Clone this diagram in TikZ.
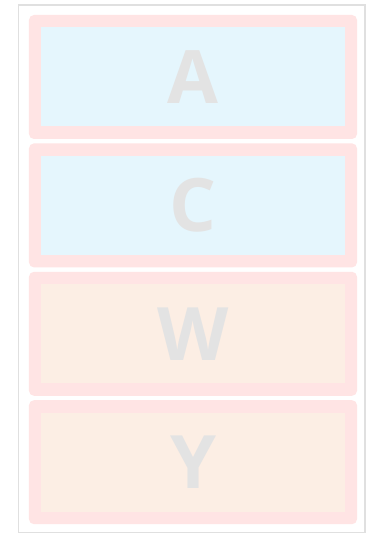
\documentclass[tikz,border=0pt]{standalone}
\usepackage{fontspec}
\setmainfont{Open Sans}
\usepackage{tikz}
\usetikzlibrary{positioning}
\definecolor{framegray}{RGB}{224,224,224}
\definecolor{panelpink}{RGB}{255,228,228}
\definecolor{skyfill}{RGB}{229,246,253}
\definecolor{peachfill}{RGB}{252,238,228}
\definecolor{lettergray}{RGB}{227,227,227}

\begin{document}
\begin{tikzpicture}[
  x=1bp, y=1bp,
  node distance=4bp,
  panel/.style={fill=panelpink, rounded corners=5bp, inner sep=0pt,
                minimum width=328bp, minimum height=124bp},
  core/.style={inner sep=0pt, minimum width=304bp, minimum height=99bp,
               font=\fontsize{74}{74}\selectfont\bfseries, text=lettergray},
]

% page and outer frame
\useasboundingbox[fill=white] (0,0) rectangle (374,535);
\draw[framegray, line width=1.5bp] (18.5,2.5) rectangle (365,530);

% four stacked panels
\node[panel] (panelA) at (193,458) {};
\node[panel, below=of panelA] (panelC) {};
\node[panel, below=of panelC] (panelW) {};
\node[panel, below=of panelW] (panelY) {};

% inner fields with letters
\node[core, fill=skyfill]   (coreA) at (panelA.center) {A};
\node[core, fill=skyfill]   (coreC) at (panelC.center) {C};
\node[core, fill=peachfill] (coreW) at (panelW.center) {W};
\node[core, fill=peachfill] (coreY) at (panelY.center) {Y};

\end{tikzpicture}
\end{document}
